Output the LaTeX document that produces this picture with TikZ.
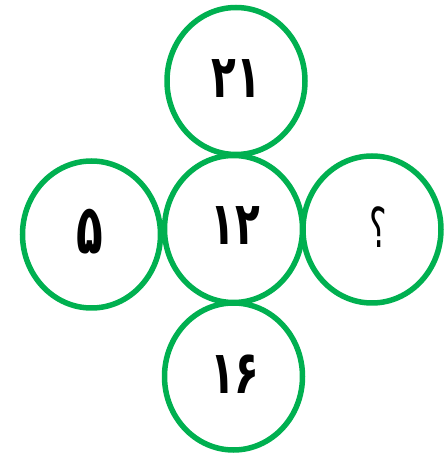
\documentclass[tikz,border=0pt]{standalone}
\usepackage{fontspec}
\usetikzlibrary{shapes.geometric}
\newfontfamily\fadigits[Script=Arabic]{DejaVu Sans}
\definecolor{ringgreen}{HTML}{00B050}
\newcommand{\tallnum}[1]{\scalebox{0.88}[1.3]{#1}}
\begin{document}
\begin{tikzpicture}[x=1pt,y=1pt,
  ring/.style={draw=ringgreen, line width=5.5pt, ellipse, minimum width=138pt, minimum height=147pt, inner sep=0pt},
  num/.style={font=\fadigits\bfseries\fontsize{46}{50}\selectfont},
  qmark/.style={font=\fadigits\fontsize{44}{50}\selectfont}]
\useasboundingbox (0,0) rectangle (445,458);
\node[ring] (top) at (236,377) {};
\node[ring] (mid) at (233.5,229) {};
\node[ring] (bot) at (233.5,81.5) {};
\node[ring] (lft) at (91.5,223.5) {};
\node[ring] (rgt) at (372,228.5) {};
\node[num] (ttop) at (236.5,379) {\tallnum{۲۱}};
\node[num] (tmid) at (235.5,232) {\tallnum{۱۲}};
\node[num] (tbot) at (235,84) {\tallnum{۱۶}};
\node[num] (tlft) at (90,226) {\scalebox{0.95}[1.5]{۵}};
\node[qmark] (trgt) at (378,231) {\scalebox{0.75}[1.25]{؟}};
\end{tikzpicture}
\end{document}
